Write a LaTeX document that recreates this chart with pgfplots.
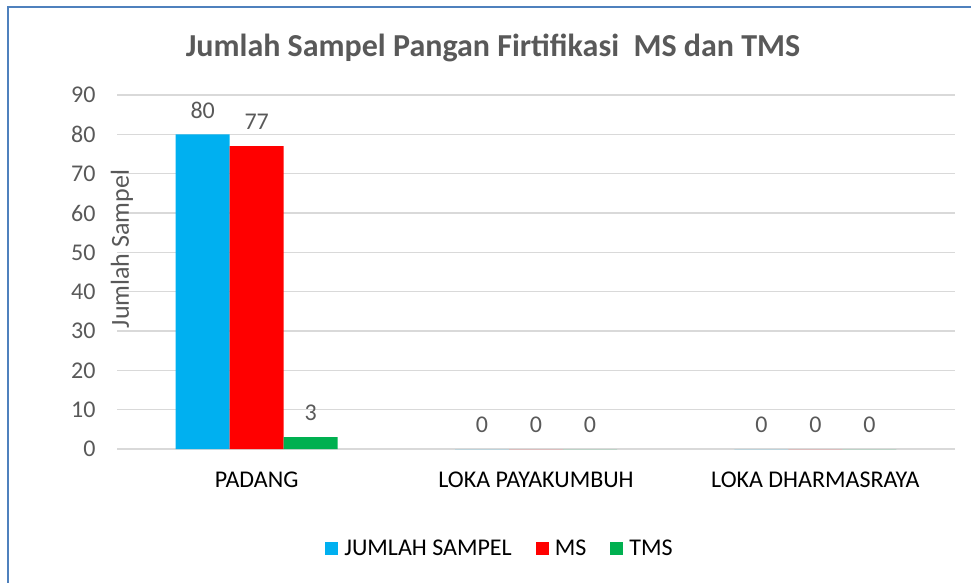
\documentclass[border=0pt]{standalone}
\usepackage{fontspec}
\setmainfont{Carlito}
\usepackage{pgfplots}
\pgfplotsset{compat=1.18}
\definecolor{cblue}{HTML}{00B0F0}
\definecolor{cred}{HTML}{FF0000}
\definecolor{cgreen}{HTML}{00B050}
\definecolor{tgray}{HTML}{595959}
\definecolor{gridc}{HTML}{D9D9D9}
\definecolor{framec}{HTML}{4F81BD}
\begin{document}
\begin{tikzpicture}
\useasboundingbox (0pt,0pt) rectangle (971pt,582pt);
\draw[framec, line width=2pt] (8pt,-2pt) -- (8pt,575pt) -- (975pt,575pt);
\node[tgray, font=\fontsize{32}{37}\selectfont\bfseries] at (493pt,534pt) {Jumlah Sampel Pangan Firtifikasi\ \ MS dan TMS};
\begin{axis}[
  at={(117pt,133pt)}, anchor=south west,
  scale only axis, width=838pt, height=354pt,
  xmin=-0.5, xmax=2.5, ymin=0, ymax=90,
  ytick={0,10,...,90},
  xtick={0,1,2},
  xticklabels={PADANG, LOKA PAYAKUMBUH, LOKA DHARMASRAYA},
  major tick length=0pt,
  axis line style={draw=none},
  ymajorgrids, grid style={gridc, line width=1.5pt},
  /pgf/number format/assume math mode=true,
  yticklabel style={tgray, font=\fontsize{24}{28}\selectfont, xshift=-18pt},
  xticklabel style={black, font=\fontsize{24}{28}\selectfont, yshift=-19pt},
  ylabel={Jumlah Sampel},
  ylabel style={at={(axis description cs:0.006,0.565)}, anchor=center, tgray, font=\fontsize{26}{30}\selectfont},
  ybar=0pt, bar width=54pt,
  nodes near coords,
  every node near coord/.append style={tgray, font=\fontsize{24}{28}\selectfont, anchor=center, yshift=24pt},
  legend columns=3,
  legend style={at={(axis description cs:0.457,-0.28)}, anchor=center, draw=none, fill=none,
    font=\fontsize{24}{28}\selectfont,
    /tikz/every odd column/.append style={column sep=4pt},
    /tikz/every even column/.append style={column sep=22pt}},
  legend image code/.code={\fill[#1] (0pt,-6.5pt) rectangle (13pt,6.5pt);},
]
\addplot[fill=cblue, draw=none] coordinates {(0,80) (1,0) (2,0)};
\addplot[fill=cred, draw=none] coordinates {(0,77) (1,0) (2,0)};
\addplot[fill=cgreen, draw=none] coordinates {(0,3) (1,0) (2,0)};
\legend{JUMLAH SAMPEL, MS, TMS}
\end{axis}
\end{tikzpicture}
\end{document}
